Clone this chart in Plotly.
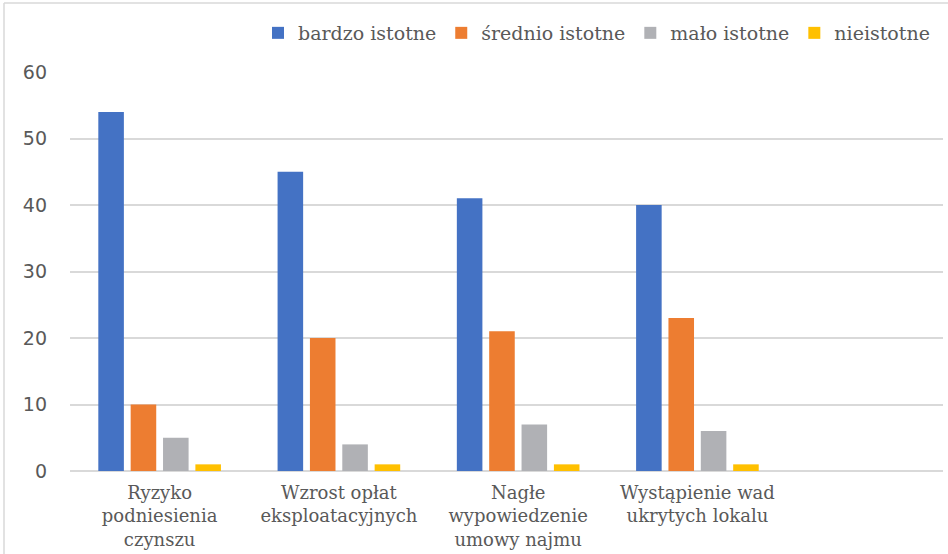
import plotly.graph_objects as go

categories = ["Ryzyko<br>podniesienia<br>czynszu",
              "Wzrost opłat<br>eksploatacyjnych",
              "Nagłe<br>wypowiedzenie<br>umowy najmu",
              "Wystąpienie wad<br>ukrytych lokalu"]
series_names = ["bardzo istotne", "średnio istotne", "mało istotne", "nieistotne"]
bardzo = [54, 45, 41, 40]
srednio = [10, 20, 21, 23]
malo = [5, 4, 7, 6]
nie = [1, 1, 1, 1]
y_ticks = [0, 10, 20, 30, 40, 50, 60]

colors = ["#4472C4", "#ED7D31", "#B0B1B5", "#FFC000"]
values = [bardzo, srednio, malo, nie]

SERIF = "DejaVu Serif"
SANS = "DejaVu Sans"

fig = go.Figure()
for name, vals, c in zip(series_names, values, colors):
    fig.add_trace(go.Bar(x=categories, y=vals, name=name, marker_color=c,
                         marker_line_width=0))

W, H = 948, 554
L, R, T, B = 70, 5, 72, 83
pw = W - L - R
ph = H - T - B

def px_x(p):
    return (p - L) / pw

def px_y(p):
    return 1 - (p - T) / ph

fig.update_layout(
    width=W, height=H,
    margin=dict(l=L, r=R, t=T, b=B),
    paper_bgcolor="white", plot_bgcolor="white",
    barmode="group", bargap=0.278, bargroupgap=0.21,
    showlegend=True,
    legend=dict(orientation="h", x=px_x(935), xanchor="right", y=px_y(33), yanchor="middle",
                font=dict(family=SERIF, size=19, color="#595959"),
                traceorder="normal"),
    xaxis=dict(range=[-0.5, 4.37], showgrid=False, showline=False, zeroline=False,
               tickfont=dict(family=SERIF, size=18, color="#595959"),
               ticks="", fixedrange=True, ticklabelstandoff=9),
    yaxis=dict(range=[0, 60], tickvals=y_ticks, showgrid=True, gridcolor="#D9D9D9",
               gridwidth=1.5, zeroline=True, zerolinecolor="#D9D9D9", zerolinewidth=1.5,
               showline=False, ticks="",
               tickfont=dict(family=SANS, size=19, color="#595959"),
               ticklabelstandoff=22, fixedrange=True),
    shapes=[
        dict(type="line", xref="paper", yref="paper", x0=px_x(4), x1=px_x(4),
             y0=px_y(3), y1=px_y(560), line=dict(color="#D9D9D9", width=1.5)),
        dict(type="line", xref="paper", yref="paper", x0=px_x(4), x1=px_x(948),
             y0=px_y(3), y1=px_y(3), line=dict(color="#D9D9D9", width=1.5)),
    ],
)

fig.write_html("out.html", config={"displayModeBar": False},
               post_script="document.body.style.margin='0';document.body.style.padding='0';")
